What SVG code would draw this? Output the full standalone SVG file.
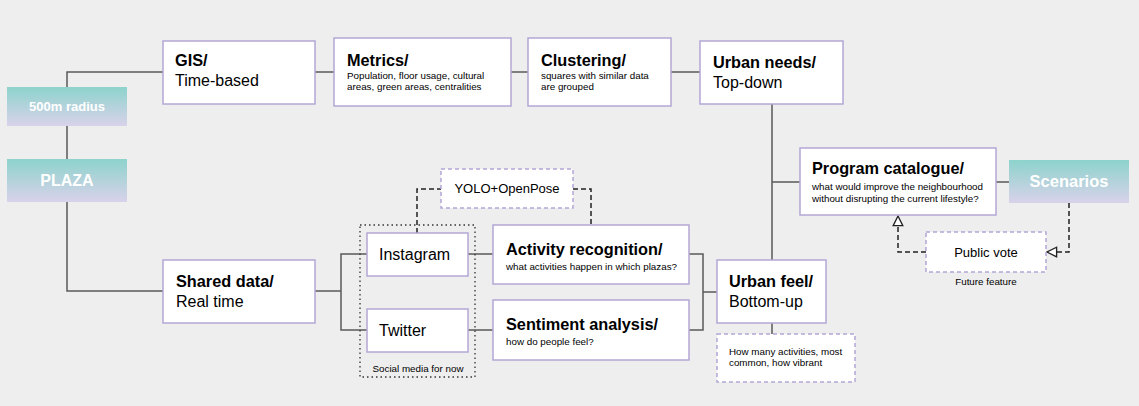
<svg xmlns="http://www.w3.org/2000/svg" width="1139" height="406" viewBox="0 0 1139 406">
<defs>
<linearGradient id="teal" x1="0" y1="0" x2="0" y2="1">
<stop offset="0" stop-color="#8dd3cc"/>
<stop offset="1" stop-color="#d9d2ea"/>
</linearGradient>
<marker id="openArrow" viewBox="0 0 10 10" refX="9" refY="5" markerWidth="12" markerHeight="12" markerUnits="userSpaceOnUse" orient="auto">
<path d="M1,1 L9,5 L1,9 Z" fill="#ffffff" stroke="#222" stroke-width="1.1"/>
</marker>
<style>
.box{fill:#ffffff;stroke:#b4a7d6;stroke-width:1.5}
.dbox{fill:#ffffff;stroke:#b4a7d6;stroke-width:1.5;stroke-dasharray:4 3}
.dot{fill:none;stroke:#333;stroke-width:1.3;stroke-dasharray:1.5 3}
.grad{fill:url(#teal)}
.line{fill:none;stroke:#595959;stroke-width:1.5}
.dline{fill:none;stroke:#222;stroke-width:1.5;stroke-dasharray:5 3}
text{font-family:"Liberation Sans",Arial,sans-serif;fill:#000}
.t{font-size:16.3px;font-weight:bold}
.s{font-size:16px}
.sm{font-size:9.8px}
.w{font-weight:bold;fill:#ffffff;text-anchor:middle}
</style>
</defs>
<rect width="1139" height="406" fill="#eeeeee"/>

<g id="connectors">
<path class="line" d="M67,87 V72 H163"/>
<path class="line" d="M67,126 V159"/>
<path class="line" d="M67,202 V291 H163"/>
<path class="line" d="M315,72 H334"/>
<path class="line" d="M511,72 H528"/>
<path class="line" d="M671,72 H700"/>
<path class="line" d="M315,291 H341"/>
<path class="line" d="M367,254 H341 V330 H367"/>
<path class="line" d="M468,254 H493"/>
<path class="line" d="M468,330 H493"/>
<path class="line" d="M689,254 H703 V330 H689"/>
<path class="line" d="M703,292 H717"/>
<path class="line" d="M772,104 V260"/>
<path class="line" d="M772,182 H800"/>
<path class="line" d="M996,182 H1009"/>
<path class="line" d="M772,323 V334"/>
<path class="dline" d="M417,233 V189 H441"/>
<path class="dline" d="M573,189 H591 V225"/>
<path class="dline" d="M1069,203 V252 H1047" marker-end="url(#openArrow)"/>
<path class="dline" d="M926,252 H898 V216" marker-end="url(#openArrow)"/>
</g>

<g id="radius">
<rect class="grad" x="7" y="87" width="120" height="39"/>
<text class="w" x="67" y="111" font-size="13">500m radius</text>
</g>
<g id="plaza">
<rect class="grad" x="7" y="159" width="120" height="43"/>
<text class="w" x="67" y="186" font-size="16">PLAZA</text>
</g>
<g id="gis">
<rect class="box" x="163" y="41" width="152" height="63"/>
<text class="t" x="175" y="66">GIS/</text>
<text class="s" x="175" y="86">Time-based</text>
</g>
<g id="metrics">
<rect class="box" x="334" y="38" width="177" height="68"/>
<text class="t" x="347" y="66">Metrics/</text>
<text class="sm" x="347" y="79">Population, floor usage, cultural</text>
<text class="sm" x="347" y="90">areas, green areas, centralities</text>
</g>
<g id="clustering">
<rect class="box" x="528" y="38" width="143" height="68"/>
<text class="t" x="541" y="66">Clustering/</text>
<text class="sm" x="541" y="79">squares with similar data</text>
<text class="sm" x="541" y="90">are grouped</text>
</g>
<g id="urban-needs">
<rect class="box" x="700" y="41" width="143" height="63"/>
<text class="t" x="713" y="68">Urban needs/</text>
<text class="s" x="713" y="88">Top-down</text>
</g>
<g id="shared-data">
<rect class="box" x="163" y="260" width="152" height="63"/>
<text class="t" x="176" y="287">Shared data/</text>
<text class="s" x="176" y="307">Real time</text>
</g>
<g id="social-media">
<rect class="dot" x="360" y="225" width="115" height="152"/>
<text class="sm" x="418" y="372" text-anchor="middle">Social media for now</text>
</g>
<g id="yolo">
<rect class="dbox" x="441" y="169" width="132" height="39"/>
<text x="507" y="193" font-size="13" text-anchor="middle">YOLO+OpenPose</text>
</g>
<g id="instagram">
<rect class="box" x="367" y="233" width="101" height="43"/>
<text class="s" x="379" y="260">Instagram</text>
</g>
<g id="twitter">
<rect class="box" x="367" y="309" width="101" height="43"/>
<text class="s" x="379" y="336">Twitter</text>
</g>
<g id="activity">
<rect class="box" x="493" y="225" width="196" height="59"/>
<text class="t" x="506" y="255">Activity recognition/</text>
<text class="sm" x="506" y="270">what activities happen in which plazas?</text>
</g>
<g id="sentiment">
<rect class="box" x="493" y="300" width="196" height="60"/>
<text class="t" x="506" y="330">Sentiment analysis/</text>
<text class="sm" x="506" y="345">how do people feel?</text>
</g>
<g id="urban-feel">
<rect class="box" x="717" y="260" width="109" height="63"/>
<text class="t" x="729" y="287">Urban feel/</text>
<text class="s" x="729" y="307">Bottom-up</text>
</g>
<g id="urban-feel-note">
<rect class="dbox" x="717" y="334" width="138" height="48"/>
<text class="sm" x="729" y="355">How many activities, most</text>
<text class="sm" x="729" y="366">common, how vibrant</text>
</g>
<g id="program">
<rect class="box" x="800" y="148" width="196" height="67"/>
<text class="t" x="812" y="174">Program catalogue/</text>
<text class="sm" x="812" y="190">what would improve the neighbourhood</text>
<text class="sm" x="812" y="202">without disrupting the current lifestyle?</text>
</g>
<g id="scenarios">
<rect class="grad" x="1009" y="160" width="120" height="43"/>
<text class="w" x="1069" y="187" font-size="16.5">Scenarios</text>
</g>
<g id="public-vote">
<rect class="dbox" x="926" y="232" width="120" height="40"/>
<text x="986" y="257" font-size="13" text-anchor="middle">Public vote</text>
<text class="sm" x="986" y="285" text-anchor="middle">Future feature</text>
</g>
</svg>
